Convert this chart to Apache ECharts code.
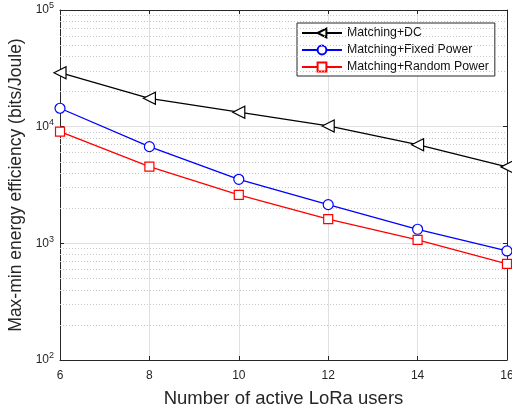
<!DOCTYPE html>
<html><head><meta charset="utf-8">
<script src="https://cdn.jsdelivr.net/npm/echarts@6/dist/echarts.min.js"></script>
<style>html,body{margin:0;padding:0;background:#fff}#c{width:512px;height:411px}</style>
</head><body><div id="c"></div>
<script>
const users = [6, 8, 10, 12, 14, 16];
const seriesNames = ['Matching+DC', 'Matching+Fixed Power', 'Matching+Random Power'];
const dcValues = [29000, 17500, 13300, 10150, 7010, 4520];
const fixedValues = [14380, 6740, 3540, 2146, 1320, 861];
const randomValues = [9060, 4540, 2600, 1610, 1069, 666];
const yTickExponents = [2, 3, 4, 5];
const minorGridValues = [];
for (let e = 2; e < 5; e++) for (let m = 2; m <= 9; m++) minorGridValues.push(m * Math.pow(10, e));

const font = 'Liberation Sans, Arial, Helvetica, sans-serif';
const chart = echarts.init(document.getElementById('c'), null, {renderer: 'canvas'});

function mkSeries(name, vals, color, symbol, size, rotate) {
  return {
    name: name, type: 'line', xAxisIndex: 0, yAxisIndex: 0,
    data: users.map((u, i) => [u, vals[i]]),
    symbol: symbol, symbolSize: size, symbolRotate: rotate || 0,
    itemStyle: {color: '#fff', borderColor: color, borderWidth: 1.2},
    lineStyle: {color: color, width: 1.3},
    emphasis: {disabled: true}, z: 5
  };
}

const gridSeries = {
  type: 'line', data: [], xAxisIndex: 0, yAxisIndex: 0, silent: true, z: 1,
  markLine: {
    silent: true, symbol: ['none', 'none'], animation: false,
    label: {show: false},
    lineStyle: {color: '#c8c8c8', type: [1, 2], width: 1},
    data: minorGridValues.map(v => ({yAxis: v}))
  }
};

chart.setOption({
  animation: false,
  backgroundColor: '#fff',
  grid: {left: 60, right: 5, top: 10, bottom: 51, containLabel: false, outerBoundsMode: 'none'},
  xAxis: [{
    type: 'value', min: 6, max: 16, interval: 2, position: 'bottom',
    axisLine: {show: true, onZero: false, lineStyle: {color: '#262626', width: 1}},
    axisTick: {show: true, inside: true, length: 4, lineStyle: {color: '#262626'}},
    axisLabel: {color: '#262626', fontFamily: font, fontSize: 12, margin: 10},
    splitLine: {show: true, lineStyle: {color: '#e0e0e0', width: 1}},
    name: 'Number of active LoRa users', nameLocation: 'middle', nameGap: 29,
    nameTextStyle: {color: '#262626', fontFamily: font, fontSize: 18.5, verticalAlign: 'top'}
  }, {
    type: 'value', min: 6, max: 16, interval: 2, position: 'top',
    axisLine: {show: true, onZero: false, lineStyle: {color: '#262626', width: 1}},
    axisTick: {show: true, inside: true, length: 4, lineStyle: {color: '#262626'}},
    axisLabel: {show: false}, splitLine: {show: false}
  }],
  yAxis: [{
    type: 'log', logBase: 10, min: 100, max: 100000, position: 'left',
    axisLine: {show: true, onZero: false, lineStyle: {color: '#262626', width: 1}},
    axisTick: {show: true, inside: true, length: 4, lineStyle: {color: '#262626'}},
    axisLabel: {
      color: '#262626', fontFamily: font, fontSize: 12, margin: 6,
      formatter: v => { const e = Math.round(Math.log10(v)); return '{b|10}{s|' + e + '}'; },
      rich: {b: {fontSize: 12, fontFamily: font, color: '#262626'}, s: {fontSize: 9, fontFamily: font, color: '#262626', verticalAlign: 'bottom', padding: [0, 0, 8, 0]}}
    },
    splitLine: {show: true, lineStyle: {color: '#e0e0e0', width: 1}},
    name: 'Max-min energy efficiency (bits/Joule)', nameLocation: 'middle', nameGap: 35,
    nameTextStyle: {color: '#262626', fontFamily: font, fontSize: 17.5}
  }, {
    type: 'log', logBase: 10, min: 100, max: 100000, position: 'right',
    axisLine: {show: true, onZero: false, lineStyle: {color: '#262626', width: 1}},
    axisTick: {show: true, inside: true, length: 4, lineStyle: {color: '#262626'}},
    axisLabel: {show: false}, splitLine: {show: false}
  }],
  legend: {
    orient: 'vertical', left: 297, top: 23,
    backgroundColor: '#fff', borderColor: '#262626', borderWidth: 1,
    padding: [4, 6, 3, 4], itemWidth: 40, itemHeight: 11, itemGap: 5,
    textStyle: {color: '#111', fontFamily: font, fontSize: 12.3},
    data: seriesNames
  },
  series: [
    gridSeries,
    mkSeries(seriesNames[0], dcValues, '#000000', 'triangle', 12, 90),
    mkSeries(seriesNames[1], fixedValues, '#0000ff', 'circle', 10),
    mkSeries(seriesNames[2], randomValues, '#ff0000', 'rect', 9)
  ]
});
</script></body></html>
